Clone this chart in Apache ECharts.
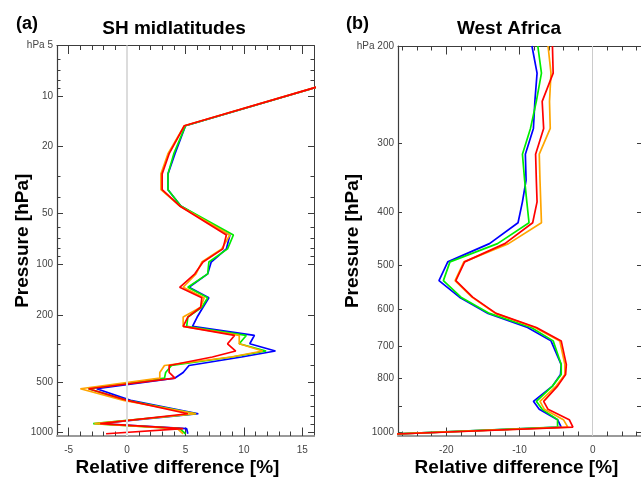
<!DOCTYPE html>
<html>
<head>
<meta charset="utf-8">
<script src="https://cdn.jsdelivr.net/npm/echarts@6/dist/echarts.min.js"></script>
<style>
  html, body { margin: 0; padding: 0; background: #fff; width: 100%; height: 100%; overflow: hidden; }
  #chart { width: 641px; height: 477px; }
</style>
</head>
<body>
<div id="chart"></div>
<script>
// (a) SH midlatitudes -- pressure levels (hPa) and relative difference (%)
var levelsA = [7, 15, 22, 29, 36, 45, 67, 81, 97, 114, 137, 158, 180, 206, 234, 265, 297, 328, 356, 400, 440, 475, 550, 645, 774, 887, 950, 1018];
var blueA   = [21.2, 5.0, 4.1, 3.5, 3.5, 4.6, 8.8, 8.5, 7.2, 6.9, 5.3, 7.0, 6.5, 6.0, 5.6, 10.9, 10.5, 12.7, 9.8, 5.3, 4.8, 4.1, -2.6, 0.3, 6.1, -2.5, 5.1, 5.2];
var greenA  = [21.2, 5.0, 4.0, 3.5, 3.5, 4.6, 9.1, 8.6, 7.0, 6.9, 5.2, 6.9, 6.4, 5.2, 5.1, 10.2, 9.6, 11.9, 9.0, 3.8, 3.3, 3.2, -3.3, 0.0, 5.9, -2.9, 4.5, 5.0];
var orangeA = [21.2, 4.9, 3.5, 2.9, 2.9, 4.5, 8.8, 8.1, 6.4, 5.9, 4.8, 6.6, 6.3, 4.8, 4.8, 9.6, 9.6, 11.6, 8.9, 3.2, 2.8, 2.8, -4.0, -0.3, 5.9, -2.8, 4.3, 4.8];
var redA    = [21.2, 4.9, 3.6, 3.0, 3.0, 4.5, 8.5, 8.2, 6.5, 5.8, 4.5, 6.4, 6.3, 5.2, 4.8, 9.2, 8.6, 9.3, 7.3, 3.6, 3.6, 4.1, -3.3, 0.0, 5.2, -2.3, 4.8, -1.8];

// (b) West Africa
var levelsB = [200, 224, 252, 282, 314, 350, 383, 418, 456, 492, 532, 570, 610, 647, 684, 755, 787, 826, 880, 910, 950, 980, 1010];
var blueB   = [-8.3, -7.6, -7.9, -8.1, -9.2, -9.1, -9.6, -10.2, -14.1, -19.8, -21.0, -18.2, -14.3, -8.9, -5.7, -4.3, -4.4, -5.5, -8.1, -7.3, -4.8, -4.3, -28];
var greenB  = [-7.5, -7.0, -7.7, -8.5, -9.6, -9.3, -9.0, -8.7, -13.0, -19.5, -20.4, -18.0, -14.1, -8.4, -5.4, -4.3, -4.3, -5.5, -7.7, -6.9, -4.8, -4.8, -28];
var orangeB = [-6.1, -5.7, -5.9, -5.8, -7.3, -7.2, -7.1, -7.0, -11.5, -17.6, -18.8, -16.5, -13.3, -7.9, -4.5, -3.8, -3.8, -5.0, -7.2, -6.6, -4.0, -3.4, -28];
var redB    = [-5.5, -5.4, -6.9, -6.7, -7.8, -7.7, -7.6, -8.2, -12.0, -17.5, -18.7, -16.4, -13.2, -7.7, -4.3, -3.6, -3.7, -4.8, -6.7, -6.1, -3.2, -2.7, -28];

// tick values
var xMajorA = [-5, 0, 5, 10, 15];
var xMinorA = [-4, -3, -2, -1, 1, 2, 3, 4, 6, 7, 8, 9, 11, 12, 13, 14];
var yMajorA = [5, 10, 20, 50, 100, 200, 500, 1000];
var yMinorA = [6, 7, 8, 9, 30, 40, 60, 70, 80, 90, 300, 400, 600, 700, 800, 900];
var xMajorB = [-20, -10, 0];
var xMinorB = [-26, -24, -22, -18, -16, -14, -12, -8, -6, -4, -2, 2, 4, 6];
var yLabelB = [200, 300, 400, 500, 600, 700, 800, 1000];
var yTickB  = [200, 300, 400, 500, 600, 700, 800, 900, 1000];

var colors = ['#0000ff', '#00ee00', '#ffa500', '#ff0000'];
var font = "'Liberation Sans', Arial, sans-serif";
var frameColor = '#3c3c3c';

function lg(arr) { return arr.map(function(p) { return Math.log10(p); }); }

function makeX(gi, min, max, major, minor, name, pad) {
    var base = { type: 'value', gridIndex: gi, min: min, max: max, splitLine: { show: false } };
    return [
        Object.assign({}, base, {
            position: 'bottom',
            axisLine: { show: true, onZero: false, lineStyle: { color: '#9a9a9a', width: 2 } },
            axisTick: { show: true, inside: true, length: 8.5, customValues: major, lineStyle: { color: frameColor } },
            axisLabel: { show: true, customValues: major, margin: 9, color: '#444', fontSize: 10, fontFamily: font },
            name: name, nameLocation: 'middle', nameGap: 22, nameMoveOverlap: false,
            nameTextStyle: { fontSize: 19, fontWeight: 'bold', color: '#000', fontFamily: font, padding: pad }
        }),
        Object.assign({}, base, {
            position: 'bottom',
            axisLine: { show: false, onZero: false },
            axisTick: { show: true, inside: true, length: 4.5, customValues: minor, lineStyle: { color: frameColor } },
            axisLabel: { show: false }
        }),
        Object.assign({}, base, {
            position: 'top',
            axisLine: { show: true, onZero: false, lineStyle: { color: frameColor, width: 1 } },
            axisTick: { show: true, inside: true, length: 8.5, customValues: major, lineStyle: { color: frameColor } },
            axisLabel: { show: false }
        }),
        Object.assign({}, base, {
            position: 'top',
            axisLine: { show: false, onZero: false },
            axisTick: { show: true, inside: true, length: 4.5, customValues: minor, lineStyle: { color: frameColor } },
            axisLabel: { show: false }
        })
    ];
}

function makeY(gi, pMin, pMax, labels, major, minor, majLen, minLen, gap) {
    var min = Math.log10(pMin);
    var base = { type: 'value', gridIndex: gi, inverse: true, min: min, max: Math.log10(pMax), splitLine: { show: false } };
    var axes = [
        Object.assign({}, base, {
            position: 'left',
            axisLine: { show: true, onZero: false, lineStyle: { color: frameColor, width: 1.2 } },
            axisTick: { show: true, inside: true, length: majLen, customValues: lg(major), lineStyle: { color: frameColor } },
            axisLabel: {
                show: true, customValues: lg(labels), margin: 4, color: '#444', fontSize: 10, fontFamily: font,
                formatter: function(v) {
                    var p = Math.round(Math.pow(10, v));
                    return Math.abs(v - min) < 1e-9 ? 'hPa ' + p : '' + p;
                }
            },
            name: 'Pressure [hPa]', nameLocation: 'middle', nameGap: gap, nameMoveOverlap: false,
            nameTextStyle: { fontSize: 19, fontWeight: 'bold', color: '#000', fontFamily: font }
        }),
        Object.assign({}, base, {
            position: 'right',
            axisLine: { show: true, onZero: false, lineStyle: { color: frameColor, width: 1 } },
            axisTick: { show: true, inside: true, length: majLen, customValues: lg(major), lineStyle: { color: frameColor } },
            axisLabel: { show: false }
        })
    ];
    if (minor.length) {
        axes.push(Object.assign({}, base, {
            position: 'left',
            axisLine: { show: false, onZero: false },
            axisTick: { show: true, inside: true, length: minLen, customValues: lg(minor), lineStyle: { color: frameColor } },
            axisLabel: { show: false }
        }));
        axes.push(Object.assign({}, base, {
            position: 'right',
            axisLine: { show: false, onZero: false },
            axisTick: { show: true, inside: true, length: minLen, customValues: lg(minor), lineStyle: { color: frameColor } },
            axisLabel: { show: false }
        }));
    }
    return axes;
}

var xAxes = makeX(0, -6, 16, xMajorA, xMinorA, 'Relative difference [%]', [0, 16, 0, 0])
    .concat(makeX(1, -26.6, 6.6, xMajorB, xMinorB, 'Relative difference [%]', [0, 6, 0, 0]));
var yA = makeY(0, 5, 1050, yMajorA, yMajorA, yMinorA, 6, 3.5, 25);
var yB = makeY(1, 200, 1017, yLabelB, yTickB, [], 4, 4, 36);
var yAxes = yA.concat(yB);
var xIdxB = 4, yIdxB = yA.length;

function profile(name, xs, levels, color, xi, yi) {
    return {
        name: name, type: 'line', xAxisIndex: xi, yAxisIndex: yi,
        symbol: 'none', clip: true,
        lineStyle: { color: color, width: 1.7 },
        data: levels.map(function(p, i) { return [xs[i], Math.log10(p)]; })
    };
}

function zeroLine(xi, yi, color, width) {
    return {
        type: 'line', xAxisIndex: xi, yAxisIndex: yi, data: [], silent: true,
        markLine: {
            silent: true, symbol: 'none', animation: false, label: { show: false },
            lineStyle: { color: color, width: width, type: 'solid' },
            data: [{ xAxis: 0 }]
        }
    };
}

var chart = echarts.init(document.getElementById('chart'));
chart.setOption({
    animation: false,
    backgroundColor: '#fff',
    title: [
        { text: '(a)', left: 16, top: 15, padding: 0, textStyle: { fontSize: 18, fontWeight: 'bold', color: '#000', fontFamily: font } },
        { text: 'SH midlatitudes', left: 174, top: 19, textAlign: 'center', padding: 0, textStyle: { fontSize: 19, fontWeight: 'bold', color: '#000', fontFamily: font } },
        { text: '(b)', left: 346, top: 15, padding: 0, textStyle: { fontSize: 18, fontWeight: 'bold', color: '#000', fontFamily: font } },
        { text: 'West Africa', left: 509, top: 19, textAlign: 'center', padding: 0, textStyle: { fontSize: 19, fontWeight: 'bold', color: '#000', fontFamily: font } }
    ],
    grid: [
        { left: 57, top: 45.5, width: 257, height: 390.5, outerBoundsMode: 'none' },
        { left: 398, top: 46, width: 243, height: 390, outerBoundsMode: 'none' }
    ],
    xAxis: xAxes,
    yAxis: yAxes,
    series: [
        zeroLine(0, 0, '#dcdcdc', 2),
        profile('blue', blueA, levelsA, colors[0], 0, 0),
        profile('green', greenA, levelsA, colors[1], 0, 0),
        profile('orange', orangeA, levelsA, colors[2], 0, 0),
        profile('red', redA, levelsA, colors[3], 0, 0),
        zeroLine(xIdxB, yIdxB, '#cccccc', 1),
        profile('blue', blueB, levelsB, colors[0], xIdxB, yIdxB),
        profile('green', greenB, levelsB, colors[1], xIdxB, yIdxB),
        profile('orange', orangeB, levelsB, colors[2], xIdxB, yIdxB),
        profile('red', redB, levelsB, colors[3], xIdxB, yIdxB)
    ]
});
</script>
</body>
</html>
